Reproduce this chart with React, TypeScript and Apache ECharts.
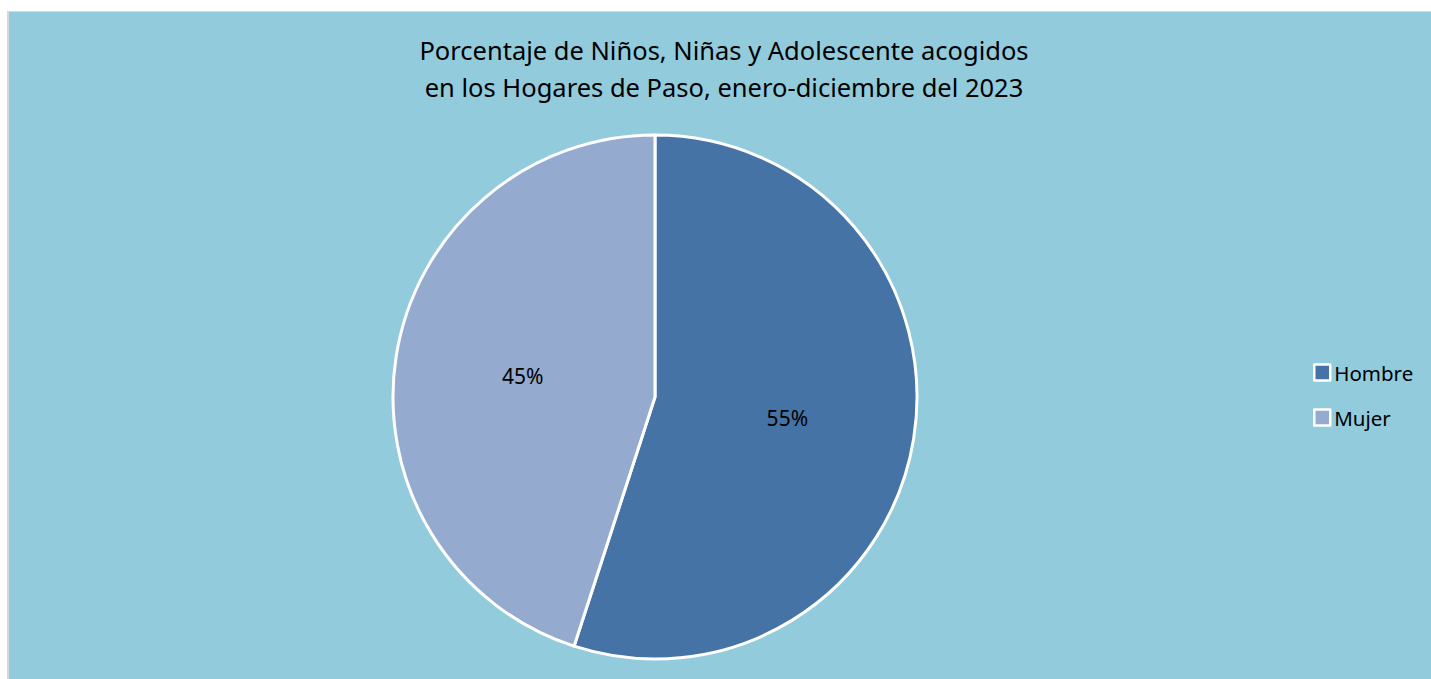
import React, { useEffect, useRef } from "react";
import * as echarts from "echarts";

const titleLines = [
  "Porcentaje de Niños, Niñas y Adolescente acogidos",
  "en los Hogares de Paso, enero-diciembre del 2023",
];
const categories = ["Hombre", "Mujer"];
const values = [55, 45];
const colors = ["#4673A6", "#95AACF"];

export default function App() {
  const ref = useRef<HTMLDivElement>(null);
  useEffect(() => {
    document.body.style.margin = "0";
    document.body.style.overflow = "hidden";
    const chart = echarts.init(ref.current!, null, { renderer: "svg" });
    chart.setOption({
      animation: false,
      backgroundColor: "transparent",
      title: {
        text: titleLines.join("\n"),
        left: 719,
        top: 26,
        textAlign: "center",
        textStyle: {
          fontFamily: "Noto Sans",
          fontSize: 25.5,
          fontWeight: "normal",
          color: "#000000",
          lineHeight: 37,
        },
      },
      legend: {
        orient: "vertical",
        left: 1308,
        top: 356,
        itemGap: 22,
        itemWidth: 16,
        itemHeight: 16,
        icon: "rect",
        itemStyle: { borderColor: "#ffffff", borderWidth: 2.5 },
        textStyle: { fontFamily: "Noto Sans", fontSize: 20.5, color: "#000", padding: [0, 0, 0, -1], lineHeight: 23 },
        data: categories,
      },
      series: [
        {
          type: "pie",
          center: [655, 397],
          radius: 262,
          startAngle: 90,
          clockwise: true,
          label: {
            position: "inside",
            formatter: "{d}%",
            fontFamily: "Noto Sans",
            fontSize: 21,
            color: "#000",
          },
          labelLine: { show: false },
          itemStyle: { borderColor: "#ffffff", borderWidth: 3 },
          emphasis: { disabled: true },
          data: categories.map((c, i) => ({
            name: c,
            value: values[i],
            itemStyle: { color: colors[i] },
          })),
        },
      ],
    });
    return () => chart.dispose();
  }, []);
  return (
    <div
      style={{
        position: "fixed",
        left: 0,
        top: 0,
        width: "100vw",
        height: "100vh",
        background: "#ffffff",
        overflow: "hidden",
      }}
    >
      <div
        style={{
          position: "absolute",
          left: 7,
          top: 11,
          right: -10,
          bottom: -10,
          background: "#92CBDC",
          borderLeft: "2px solid #D9D9D9",
          borderTop: "1px solid #D9D9D9",
        }}
      />
      <div
        ref={ref}
        style={{ position: "absolute", left: 0, top: 0, width: 1431, height: 679 }}
      />
    </div>
  );
}
